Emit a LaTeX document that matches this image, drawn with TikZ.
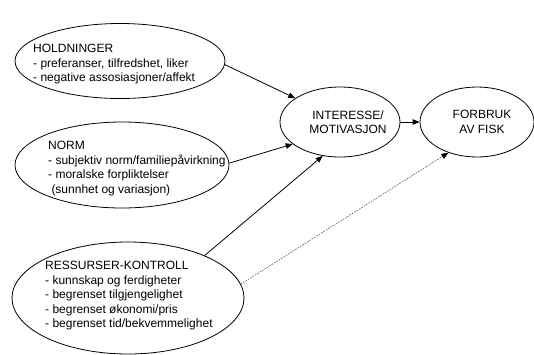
\documentclass[tikz,border=0pt]{standalone}
\usepackage{fontspec}
\setmainfont{Liberation Sans}
\usetikzlibrary{arrows.meta,shapes.geometric}
\begin{document}
\begin{tikzpicture}[x=1pt,y=-1pt,
  ell/.style={draw=black,line width=0.8pt,ellipse,inner sep=0pt},
  txt/.style={inner sep=0pt,align=left,font=\fontsize{12}{14.5}\selectfont},
  ctxt/.style={inner sep=0pt,align=center,font=\fontsize{12}{14.5}\selectfont},
  conn/.style={draw=black,line width=0.8pt,-{Triangle[length=7pt,width=5.5pt]}},
  dconn/.style={draw=black!65,line width=0.6pt,dash pattern=on 1.6pt off 1.2pt,-{Triangle[length=7pt,width=5.5pt,color=black,fill=black]}}]
\useasboundingbox (0,0) rectangle (534,354);
\fill[white] (0,0) rectangle (534,354);

\node[ell,minimum width=210pt,minimum height=75pt] (hold) at (120,61) {};
\node[ell,minimum width=214pt,minimum height=86pt] (norm) at (122,165) {};
\node[ell,minimum width=232pt,minimum height=112pt] (ress) at (128,298) {};
\node[ell,minimum width=120pt,minimum height=70pt] (int) at (340,122) {};
\node[ell,minimum width=114pt,minimum height=70pt] (forb) at (477,122) {};

\node[txt,anchor=north west] (holdt) at (33,44) {HOLDNINGER\\- preferanser, tilfredshet, liker\\- negative assosiasjoner/affekt};
\node[txt,anchor=north west] (normt) at (48,141) {NORM\\- subjektiv norm/familiepåvirkning\\- moralske forpliktelser\\\hspace*{3.3pt}(sunnhet og variasjon)};
\node[txt,anchor=north west] (resst) at (45,261) {RESSURSER-KONTROLL\\- kunnskap og ferdigheter\\- begrenset tilgjengelighet\\- begrenset økonomi/pris\\- begrenset tid/bekvemmelighet};
\node[ctxt] (intt) at (348,122) {INTERESSE/\\MOTIVASJON};
\node[ctxt] (forbt) at (482,122) {FORBRUK\\AV FISK};

\draw[conn] (hold.-2) -- (int.152);
\draw[conn] (norm.1) -- (int.205);
\draw[conn] (ress.29) -- (int.243);
\draw[conn] (int.east) -- (forb.west);
\draw[dconn] (ress.7) -- (forb.227);
\end{tikzpicture}
\end{document}
